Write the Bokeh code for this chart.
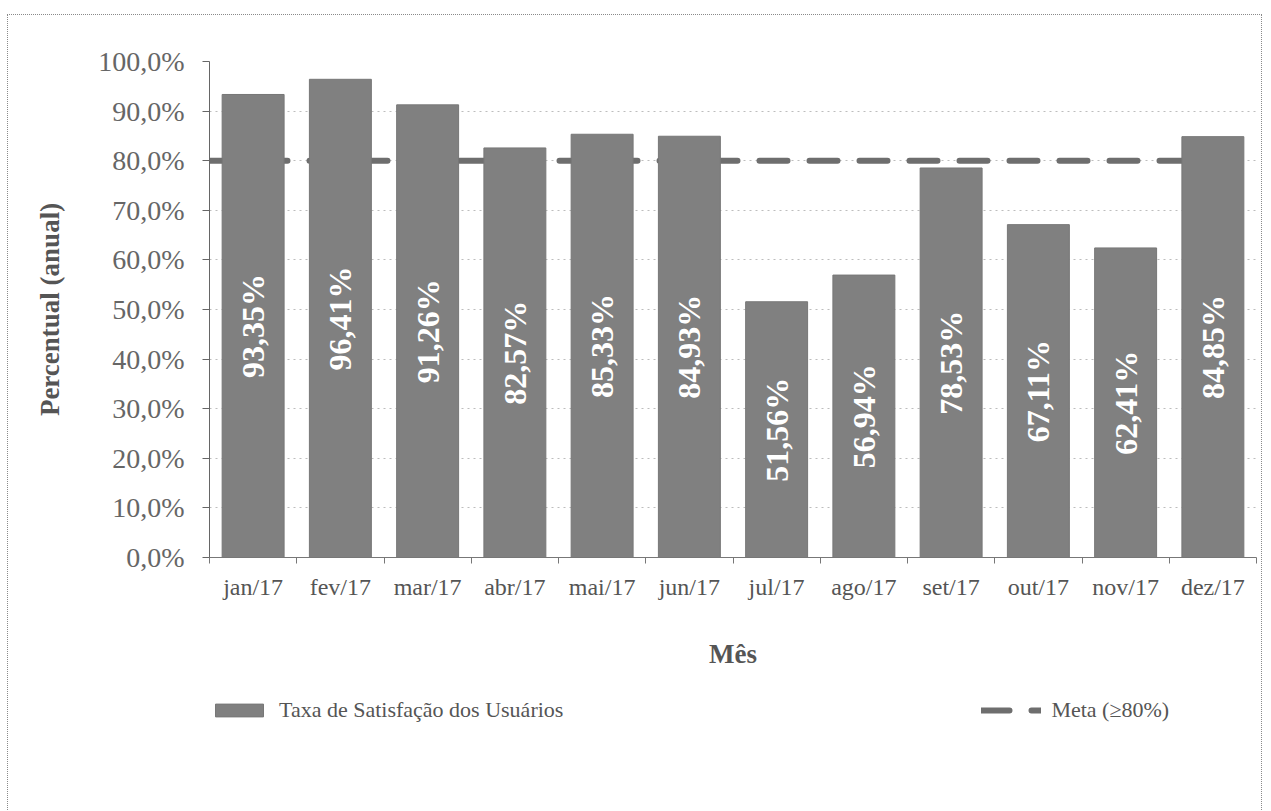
import math
from bokeh.plotting import figure
from bokeh.layouts import column
from bokeh.models import ColumnDataSource, FixedTicker, Legend, LegendItem, Range1d
from bokeh.core.properties import value
from bokeh.embed import file_html
from bokeh.resources import INLINE

months = ["jan/17", "fev/17", "mar/17", "abr/17", "mai/17", "jun/17",
          "jul/17", "ago/17", "set/17", "out/17", "nov/17", "dez/17"]
satisfaction = [93.35, 96.41, 91.26, 82.57, 85.33, 84.93,
                51.56, 56.94, 78.53, 67.11, 62.41, 84.85]
goal = 80.0
y_ticks = [0, 10, 20, 30, 40, 50, 60, 70, 80, 90, 100]
series_names = ["Taxa de Satisfação dos Usuários", "Meta (≥80%)"]

SERIF = "Liberation Serif"
BAR_FILL = "#808080"
BAR_LINE = "#777777"
GOAL_COLOR = "#6e6e6e"
GOAL_DASH = "28 22"

n = len(months)
xc = [i + 0.5 for i in range(n)]
labels = [f"{v:.2f}%".replace(".", ",") for v in satisfaction]
src = ColumnDataSource(dict(x=xc, top=satisfaction, mid=[v / 2 for v in satisfaction],
                            lab=labels))
goal_src = ColumnDataSource(dict(x=[0, n], y=[goal, goal]))

p = figure(width=1253, height=664, output_backend="svg", toolbar_location=None,
           x_range=Range1d(0, n), y_range=Range1d(0, 100),
           min_border_left=201, min_border_right=5, min_border_top=46, min_border_bottom=122)
p.outline_line_color = None
p.background_fill_color = "white"
p.border_fill_color = "white"

# goal line (behind bars)
p.line(x="x", y="y", source=goal_src, line_color=GOAL_COLOR, line_width=6,
       line_dash=GOAL_DASH, line_cap="round")

p.vbar(x="x", top="top", width=0.71, source=src, fill_color=BAR_FILL,
       line_color=BAR_LINE, line_width=1)

p.text(x="x", y="mid", text="lab", source=src, angle=math.pi / 2,
       text_align="center", text_baseline="middle", text_color="white",
       text_font=value(SERIF), text_font_style="bold", text_font_size="32px")

# axes
p.xaxis.ticker = FixedTicker(ticks=xc, minor_ticks=list(range(n + 1)))
p.xaxis.major_label_overrides = {x: m for x, m in zip(xc, months)}
p.xaxis.major_tick_line_color = None
p.xaxis.minor_tick_in = 0
p.xaxis.minor_tick_out = 6
p.xaxis.minor_tick_line_color = "#777777"
p.xaxis.axis_line_color = "#777777"
p.xaxis.major_label_text_font = SERIF
p.xaxis.major_label_text_font_size = "24px"
p.xaxis.major_label_text_color = "#555555"
p.xaxis.major_label_standoff = 10
p.xaxis.axis_label = "Mês"
p.xaxis.axis_label_text_font = SERIF
p.xaxis.axis_label_text_font_size = "27px"
p.xaxis.axis_label_text_font_style = "bold"
p.xaxis.axis_label_text_color = "#555555"
p.xaxis.axis_label_standoff = 36

p.yaxis.ticker = FixedTicker(ticks=y_ticks)
p.yaxis.major_label_overrides = {t: f"{t:.1f}%".replace(".", ",") for t in y_ticks}
p.yaxis.major_tick_in = 0
p.yaxis.major_tick_out = 7
p.yaxis.minor_tick_line_color = None
p.yaxis.axis_line_color = "#666666"
p.yaxis.major_tick_line_color = "#666666"
p.yaxis.major_label_text_font = SERIF
p.yaxis.major_label_text_font_size = "28px"
p.yaxis.major_label_text_color = "#666666"
p.yaxis.major_label_standoff = 18
p.yaxis.axis_label = "Percentual (anual)"
p.yaxis.axis_label_text_font = SERIF
p.yaxis.axis_label_text_font_size = "27px"
p.yaxis.axis_label_text_font_style = "bold"
p.yaxis.axis_label_text_color = "#555555"
p.yaxis.axis_label_standoff = 30

p.xgrid.grid_line_color = None
p.ygrid.grid_line_color = "#bdbdbd"
p.ygrid.grid_line_dash = "dotted"
p.ygrid.grid_line_width = 1

# legend strip (separate canvas so the legend is not clipped by the plot frame);
# its renderers reuse the data but lie outside this strip's visible range
q = figure(width=1253, height=132, output_backend="svg", toolbar_location=None,
           x_range=Range1d(1000, 1001), y_range=Range1d(1000, 1001),
           min_border=0, min_border_left=0, min_border_right=0,
           min_border_top=0, min_border_bottom=0)
q.axis.visible = False
q.grid.visible = False
q.outline_line_color = None
q.border_fill_color = "white"
lb = q.vbar(x="x", top="top", width=0.71, source=src, fill_color=BAR_FILL,
            line_color=BAR_LINE, line_width=1)
ll = q.line(x="x", y="y", source=goal_src, line_color=GOAL_COLOR, line_width=6,
            line_dash=GOAL_DASH, line_cap="round")
legend = Legend(items=[LegendItem(label=series_names[0], renderers=[lb]),
                       LegendItem(label=series_names[1], renderers=[ll])],
                orientation="horizontal", location=(0, 88), padding=0, margin=0,
                spacing=418, glyph_width=60, glyph_height=16, label_standoff=10,
                border_line_color=None, background_fill_alpha=0,
                label_text_font=SERIF, label_text_font_size="22px",
                label_text_color="#555555")
q.add_layout(legend, "center")

layout = column(p, q, spacing=0,
                styles={"border": "1px dotted #8a8a8a", "margin-left": "7px",
                        "margin-top": "14px", "gap": "0px"})

open("out.html", "w").write(file_html(layout, INLINE))
